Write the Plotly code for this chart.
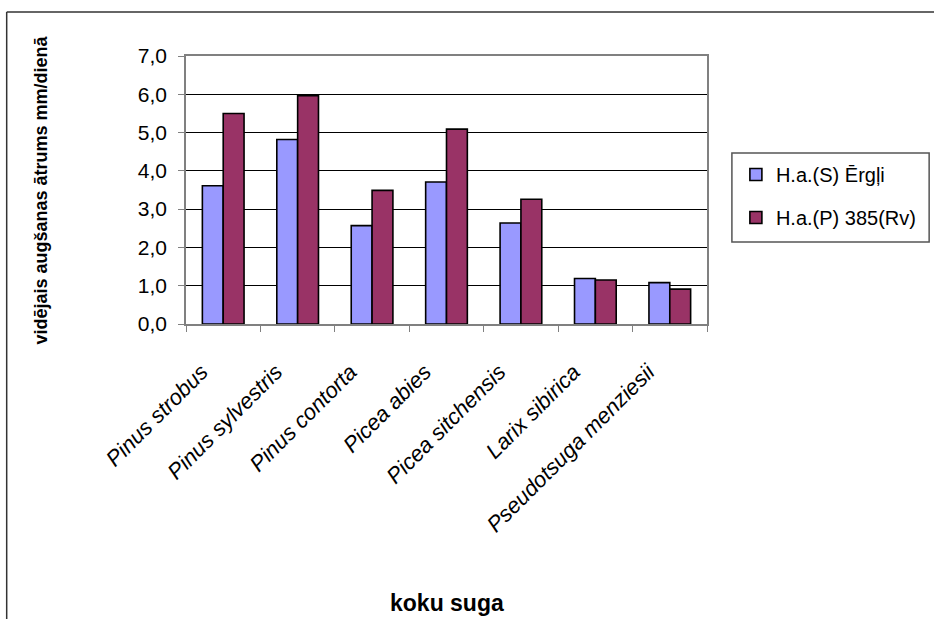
import plotly.graph_objects as go

species = [
    "Pinus strobus",
    "Pinus sylvestris",
    "Pinus contorta",
    "Picea abies",
    "Picea sitchensis",
    "Larix sibirica",
    "Pseudotsuga menziesii",
]
ergli = [3.61, 4.82, 2.57, 3.71, 2.64, 1.19, 1.08]
rv385 = [5.5, 5.96, 3.49, 5.09, 3.26, 1.15, 0.91]

series_names = ["H.a.(S) Ērgļi", "H.a.(P) 385(Rv)"]
series_colors = ["#9999FF", "#993366"]

FONT = "Liberation Sans, Arial, sans-serif"

fig = go.Figure()
for i, (name, vals, col) in enumerate(zip(series_names, [ergli, rv385], series_colors)):
    fig.add_trace(
        go.Bar(
            x=species,
            y=vals,
            name=name,
            legendgroup=f"g{i}",
            marker=dict(color=col, line=dict(color="black", width=1.6)),
        )
    )

# plot area in pixels: x 186..709, y 56..324
L, R, T, B = 186, 709, 56, 324
W, H = R - L, B - T


def px(x):
    return (x - L) / W


def py(y):
    return (B - y) / H


# trailing spaces push the rotated labels down-left like the original
pad = "\u00a0" * 5

fig.update_layout(
    width=934,
    height=619,
    margin=dict(l=L, r=934 - R, t=T, b=619 - B),
    paper_bgcolor="white",
    plot_bgcolor="white",
    separators=", ",
    barmode="group",
    bargap=0.44,
    bargroupgap=0,
    font=dict(family=FONT, color="black"),
    showlegend=True,
    legend=dict(
        x=px(738),
        y=py(155),
        xanchor="left",
        yanchor="top",
        borderwidth=0,
        bgcolor="rgba(0,0,0,0)",
        font=dict(size=20, family=FONT),
        tracegroupgap=14,
        itemwidth=30,
    ),
    xaxis=dict(
        automargin=False,
        tickangle=-45,
        tickvals=species,
        ticktext=[s + pad for s in species],
        tickfont=dict(size=22, style="italic", family=FONT),
        showline=True,
        linecolor="#808080",
        linewidth=1.5,
        mirror=True,
        ticks="outside",
        tickson="boundaries",
        ticklen=6,
        tickcolor="#808080",
        showgrid=False,
        ticklabelstandoff=3,
    ),
    yaxis=dict(
        automargin=False,
        range=[0, 7],
        dtick=1,
        tickformat=".1f",
        tickfont=dict(size=21, family=FONT),
        showline=True,
        linecolor="#808080",
        linewidth=1.5,
        mirror=True,
        ticks="outside",
        ticklen=6,
        tickcolor="#808080",
        showgrid=True,
        gridcolor="black",
        gridwidth=1,
        zeroline=False,
        ticklabelstandoff=7,
    ),
    annotations=[
        dict(
            text="<b>vidējais augšanas ātrums mm/dienā</b>",
            x=px(28),
            y=0.5,
            xref="paper",
            yref="paper",
            textangle=-90,
            showarrow=False,
            font=dict(size=18, family=FONT),
        ),
        dict(
            text="<b>koku suga</b>",
            x=0.5,
            y=py(603),
            xref="paper",
            yref="paper",
            yanchor="middle",
            showarrow=False,
            font=dict(size=23, family=FONT),
        ),
    ],
    shapes=[
        dict(
            type="line",
            xref="paper",
            yref="paper",
            x0=px(6),
            x1=px(940),
            y0=py(12),
            y1=py(12),
            line=dict(color="#333333", width=1.5),
        ),
        dict(
            type="line",
            xref="paper",
            yref="paper",
            x0=px(6),
            x1=px(6),
            y0=py(12),
            y1=py(625),
            line=dict(color="#333333", width=1.5),
        ),
        dict(
            type="rect",
            xref="paper",
            yref="paper",
            x0=px(734),
            x1=px(932),
            y0=py(153),
            y1=py(242),
            line=dict(color="#555555", width=1.5),
        ),
    ],
)

fig.write_html(
    "out.html",
    config={"displayModeBar": False},
    post_script="document.body.style.margin='0';",
)
